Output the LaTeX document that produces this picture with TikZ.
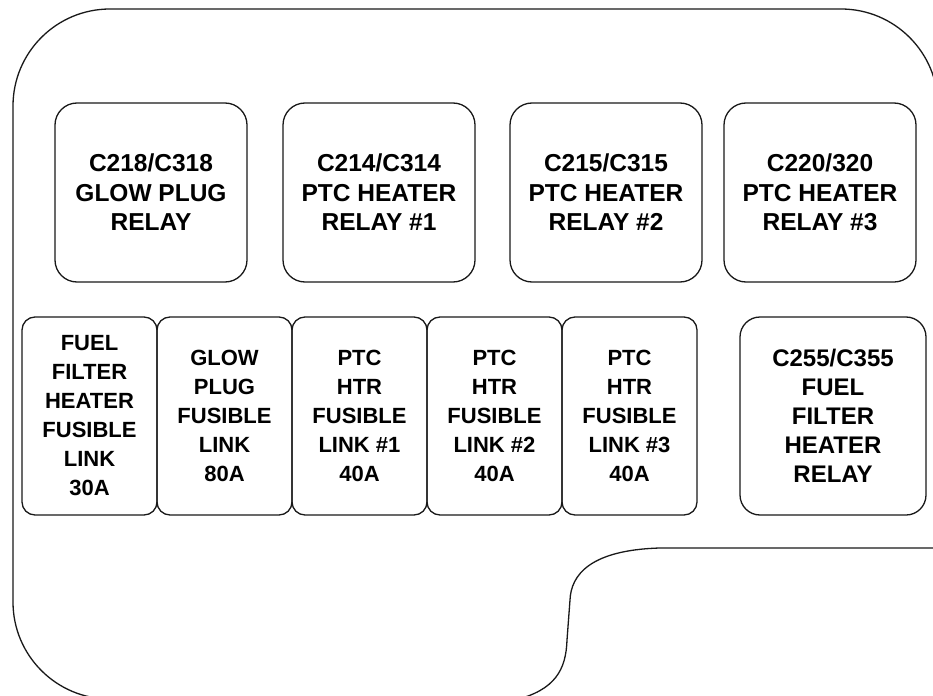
\documentclass[tikz,border=0pt]{standalone}
\usepackage{fontspec}
\setmainfont{Liberation Sans}
\usetikzlibrary{positioning}

\begin{document}
\begin{tikzpicture}[
  x=1bp, y=-1bp,
  node distance=0bp,
  outline/.style={draw=black!90, line width=1.3bp},
  relay/.style={draw=black!90, line width=1.3bp, rounded corners=22bp, minimum width=192bp, minimum height=179bp, align=center, inner sep=0pt, outer sep=0pt, font=\fontsize{24.5bp}{29.5bp}\selectfont\bfseries},
  fuse/.style={relay, rounded corners=13bp, minimum width=135bp, minimum height=198bp, font=\fontsize{22bp}{29bp}\selectfont\bfseries},
  bigfuse/.style={relay, rounded corners=20bp, minimum width=186bp, minimum height=198bp, font=\fontsize{24bp}{29bp}\selectfont\bfseries}
]
\useasboundingbox (0,0) rectangle (933,696);
\clip (0,0) rectangle (933,696);

\draw[outline, rounded corners=97bp] (938,300) -- (938,9) -- (13,9) -- (13,699) -- (300,699);
\draw[outline] (515,700) .. controls (555,690) and (566,670) .. (567,640) -- (570,600)
  .. controls (571,575) and (590,550) .. (660,548) -- (945,548);

\node[relay] (glowrelay) at (151,192.5) {C218/C318\\GLOW PLUG\\RELAY};
\node[relay, right=36bp of glowrelay] (ptcrelay1) {C214/C314\\PTC HEATER\\RELAY \#1};
\node[relay, right=35bp of ptcrelay1] (ptcrelay2) {C215/C315\\PTC HEATER\\RELAY \#2};
\node[relay, right=22bp of ptcrelay2] (ptcrelay3) {C220/320\\PTC HEATER\\RELAY \#3};

\node[fuse] (fuelfuse) at (89.5,416) {FUEL\\FILTER\\HEATER\\FUSIBLE\\LINK\\30A};
\node[fuse, right=of fuelfuse] (glowfuse) {GLOW\\PLUG\\FUSIBLE\\LINK\\80A};
\node[fuse, right=of glowfuse] (ptcfuse1) {PTC\\HTR\\FUSIBLE\\LINK \#1\\40A};
\node[fuse, right=of ptcfuse1] (ptcfuse2) {PTC\\HTR\\FUSIBLE\\LINK \#2\\40A};
\node[fuse, right=of ptcfuse2] (ptcfuse3) {PTC\\HTR\\FUSIBLE\\LINK \#3\\40A};
\node[bigfuse, right=43bp of ptcfuse3] (fuelrelay) {C255/C355\\FUEL\\FILTER\\HEATER\\RELAY};

\end{tikzpicture}
\end{document}
